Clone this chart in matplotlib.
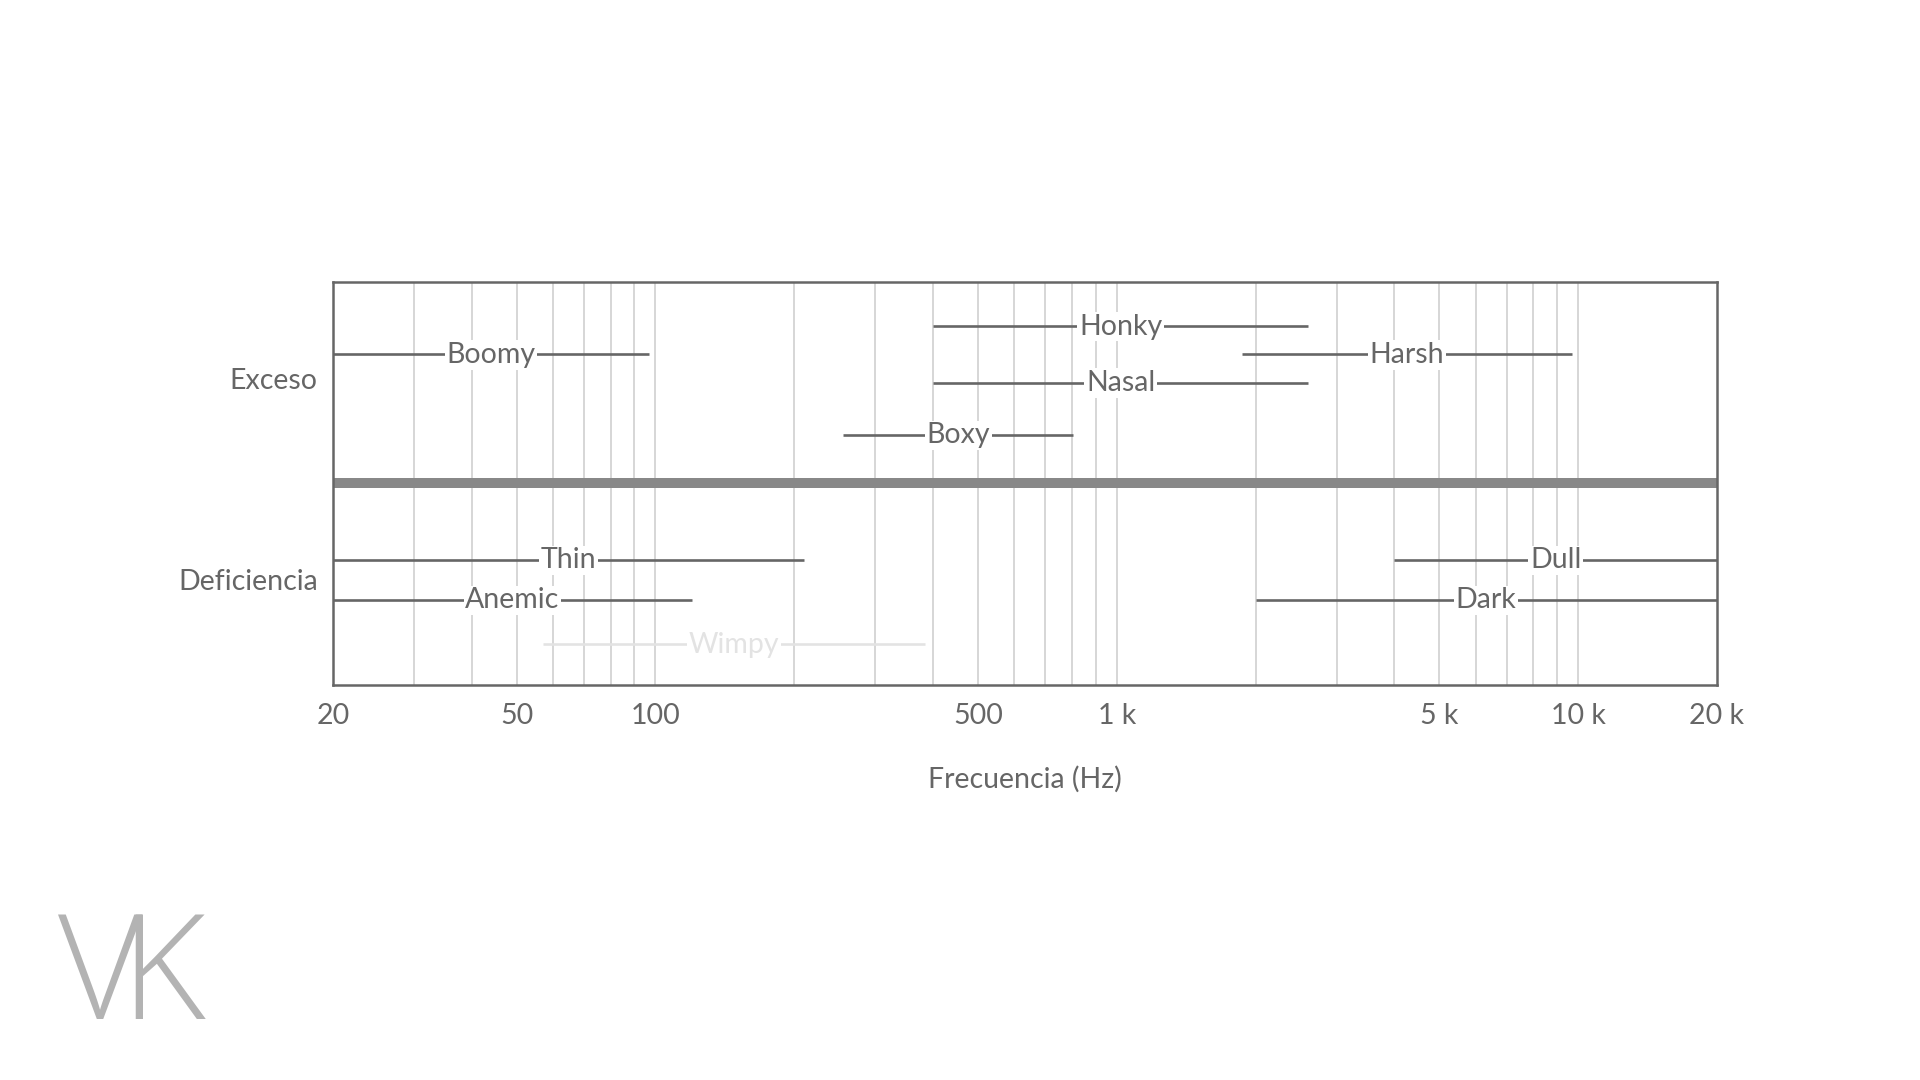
import matplotlib
matplotlib.use("Agg")
import matplotlib.pyplot as plt

# Frequency ranges (Hz) for each descriptor
names = ["Honky", "Boomy", "Harsh", "Nasal", "Boxy", "Thin", "Dull", "Anemic", "Dark", "Wimpy"]
low = [400, 20, 1870, 400, 255, 20, 4000, 20, 2000, 57]
high = [2600, 97, 9700, 2600, 805, 210, 20000, 120, 20000, 384]
row = [8.9, 8.2, 8.2, 7.5, 6.2, 3.1, 3.1, 2.1, 2.1, 1.0]
faded = ["Wimpy"]

categories = ["Exceso", "Deficiencia"]
category_pos = [7.6, 2.6]

tick_values = [20, 50, 100, 500, 1000, 5000, 10000, 20000]
tick_labels = ["20", "50", "100", "500", "1 k", "5 k", "10 k", "20 k"]
grid_values = [30, 40, 50, 60, 70, 80, 90, 100,
               200, 300, 400, 500, 600, 700, 800, 900, 1000,
               2000, 3000, 4000, 5000, 6000, 7000, 8000, 9000, 10000]

plt.rcParams["font.family"] = ["Lato", "DejaVu Sans"]
text_color = "#666666"

fig = plt.figure(figsize=(19.2, 10.8), dpi=100)
ax = fig.add_axes([0.1734, 0.3662, 0.7208, 0.3727])

ax.set_xscale("log")
ax.set_xlim(20, 20000)
ax.set_ylim(0, 10)

for g in grid_values:
    ax.axvline(g, color="#cccccc", lw=1.1, zorder=1)

ax.axhline(5, color="#888888", lw=7.2, zorder=3)

for name, lo, hi, y in zip(names, low, high, row):
    col = "#e3e3e3" if name in faded else text_color
    ax.plot([lo, hi], [y, y], color=col, lw=1.9, solid_capstyle="butt", zorder=2)
    mid = (lo * hi) ** 0.5
    ax.text(mid, y + 0.05, name, color=col, fontsize=20.5, ha="center", va="center_baseline",
            zorder=4, bbox=dict(boxstyle="square,pad=0.06", fc="white", ec="none"))

ax.set_xticks(tick_values)
ax.set_xticklabels(tick_labels)
ax.xaxis.set_minor_locator(matplotlib.ticker.NullLocator())
ax.set_yticks(category_pos)
ax.set_yticklabels(categories)
ax.tick_params(axis="both", length=0, labelsize=20.5, colors=text_color)
ax.tick_params(axis="x", pad=13)
ax.tick_params(axis="y", pad=11)

for s in ax.spines.values():
    s.set_color(text_color)
    s.set_linewidth(1.8)
    s.set_zorder(5)

ax.set_xlabel("Frecuencia (Hz)", fontsize=20.5, color=text_color, labelpad=27)

# logo (letters share a stroke)
fig.text(0.030, 0.0565, "V", fontsize=105, color="#b3b3b3", family="Open Sans",
         fontweight="light", ha="left", va="baseline")
fig.text(0.0625, 0.0565, "K", fontsize=105, color="#b3b3b3", family="Open Sans",
         fontweight="light", ha="left", va="baseline")

fig.savefig("out.png", dpi=100, facecolor="white")
